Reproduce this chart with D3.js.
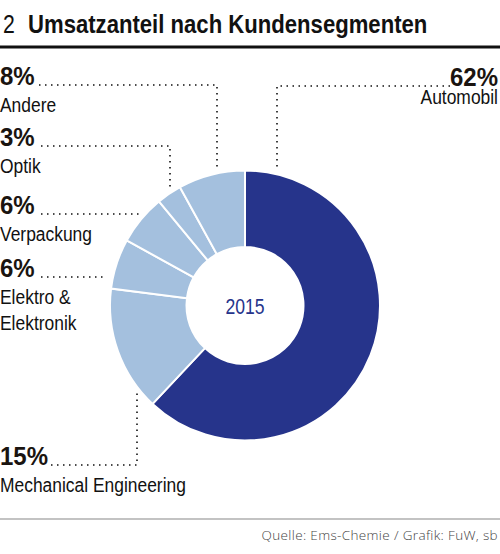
<!DOCTYPE html>
<html>
<head>
<meta charset="utf-8">
<script src="https://cdn.jsdelivr.net/npm/d3@7"></script>
<style>
  body { margin: 0; background: #fff; }
  svg { display: block; }
  text { font-family: "Liberation Sans", Arial, sans-serif; }
</style>
</head>
<body>
<div id="vis"></div>
<script>
// data
const categories = ['Automobil', 'Mechanical Engineering', 'Elektro & Elektronik', 'Verpackung', 'Optik', 'Andere'];
const shares = [62, 15, 6, 6, 3, 8];
const labelLines = [['Automobil'], ['Mechanical Engineering'], ['Elektro &', 'Elektronik'], ['Verpackung'], ['Optik'], ['Andere']];
const centerLabel = '2015';

let width = 500,
  height = 554;

let svg = d3
  .select('#vis')
  .append('svg')
  .attr('width', width)
  .attr('height', height)
  .style('background-color', 'white');

// no condensed face installed, so squeeze the text sideways
function narrowText(x, y, str, size, sx, anchor) {
  return svg
    .append('text')
    .attr('transform', `translate(${x},${y}) scale(${sx},1)`)
    .attr('text-anchor', anchor || 'start')
    .style('font-size', size + 'px')
    .text(str);
}

// title
narrowText(3, 33, '2', 25, 0.85).attr('fill', '#111');
narrowText(28, 33, 'Umsatzanteil nach Kundensegmenten', 25, 0.885).attr('fill', '#111').style('font-weight', 'bold');

svg.append('line').attr('x1', 0).attr('x2', width).attr('y1', 47).attr('y2', 47).attr('stroke', '#111').attr('stroke-width', 3);

// donut
let cx = 245,
  cy = 305.5,
  outerR = 135,
  innerR = 58.5;

let pie = d3.pie().sort(null).value((d) => d);
let arc = d3.arc().innerRadius(innerR).outerRadius(outerR);
let color = d3.scaleOrdinal().domain(categories).range(['#26348b', '#a4c0de', '#a4c0de', '#a4c0de', '#a4c0de', '#a4c0de']);

let g = svg.append('g').attr('transform', `translate(${cx},${cy})`);
g.selectAll('path')
  .data(pie(shares))
  .join('path')
  .attr('d', arc)
  .attr('fill', (d, i) => color(categories[i]))
  .attr('stroke', 'white')
  .attr('stroke-width', 2);

narrowText(cx, cy + 8, centerLabel, 22, 0.8, 'middle').attr('fill', '#26348b');

// label layout: baseline of the percentage, text side, leader type and where it runs
const layout = [
  { y: 86, side: 'right', leader: 'v', at: 277, from: 450 }, // Automobil
  { y: 465, side: 'left', leader: 'v', at: 137, from: 51 }, // Mechanical
  { y: 277, side: 'left', leader: 'h', from: 41 }, // Elektro
  { y: 214, side: 'left', leader: 'h', from: 41 }, // Verpackung
  { y: 146, side: 'left', leader: 'v', at: 170, from: 41 }, // Optik
  { y: 85, side: 'left', leader: 'v', at: 217, from: 39 }, // Andere
];

let leaders = svg.append('g').attr('fill', 'none').attr('stroke', '#111').attr('stroke-width', 1.6).attr('stroke-dasharray', '1.5 4.5');

shares.forEach((v, i) => {
  let L = layout[i];
  let gap = 6;
  let pts;
  if (L.leader === 'v') {
    let dx = L.at - cx;
    let dy = Math.sqrt(outerR * outerR - dx * dx) + gap;
    let endY = L.y < cy ? cy - dy : cy + dy;
    pts = [[L.from, L.y], [L.at, L.y], [L.at, endY]];
  } else {
    let dy = L.y - cy;
    let endX = cx - Math.sqrt(outerR * outerR - dy * dy) - gap;
    pts = [[L.from, L.y], [endX, L.y]];
  }
  leaders.append('path').attr('d', d3.line()(pts));

  let tx = L.side === 'right' ? 498 : 0;
  let anchor = L.side === 'right' ? 'end' : 'start';
  narrowText(tx, L.y, v + '%', 25, 0.96, anchor).style('font-weight', 'bold').attr('fill', '#1a1410');

  let firstY = L.side === 'right' ? L.y + 18 : L.y + 27;
  labelLines[i].forEach((t, j) => {
    narrowText(tx, firstY + j * 26, t, 21, 0.83, anchor).attr('fill', '#111');
  });
});

// footer
svg.append('line').attr('x1', 0).attr('x2', width).attr('y1', 519).attr('y2', 519).attr('stroke', '#888').attr('stroke-width', 1.2);
svg
  .append('text')
  .attr('x', 498)
  .attr('y', 540)
  .attr('text-anchor', 'end')
  .style('font-family', '"Open Sans", sans-serif')
  .style('font-weight', 300)
  .style('font-size', '13.5px')
  .style('letter-spacing', '0.35px')
  .attr('fill', '#444')
  .text('Quelle: Ems-Chemie / Grafik: FuW, sb');
</script>
</body>
</html>
